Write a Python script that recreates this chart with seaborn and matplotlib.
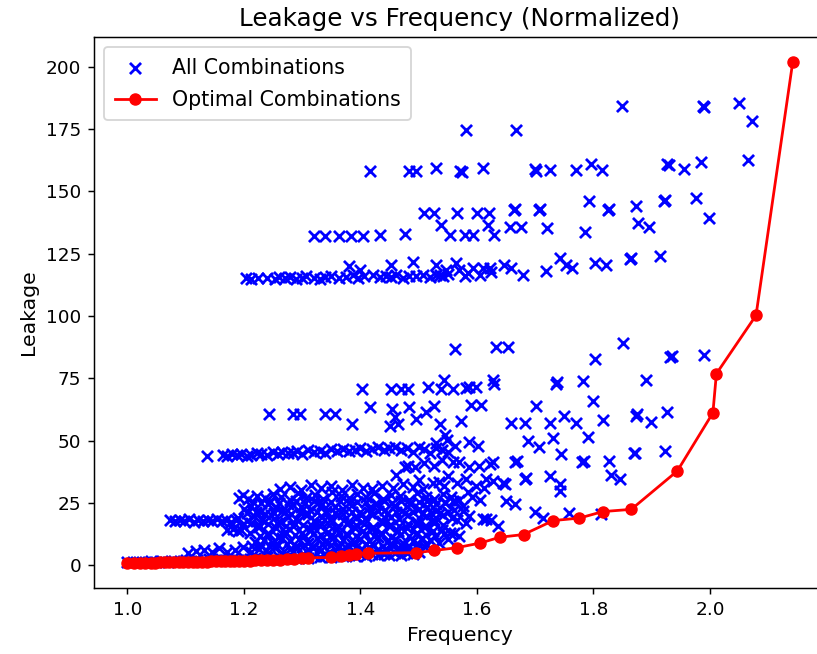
import matplotlib
matplotlib.use("Agg")
import matplotlib.pyplot as plt
import seaborn as sns

# ---- optimal (pareto) combinations ----
opt_freq = [1.000, 1.012, 1.022, 1.031, 1.040, 1.048, 1.056, 1.064, 1.072, 1.080,
            1.088, 1.096, 1.104, 1.112, 1.120, 1.128, 1.136, 1.144, 1.152, 1.160,
            1.168, 1.176, 1.184, 1.192, 1.200, 1.210, 1.220, 1.230, 1.240, 1.250,
            1.262, 1.274, 1.286, 1.300, 1.310, 1.350, 1.367, 1.381, 1.393, 1.413,
            1.496, 1.527, 1.565, 1.606, 1.639, 1.680, 1.731, 1.776, 1.816, 1.865,
            1.944, 2.005, 2.011, 2.079, 2.142]
opt_leak = [0.9, 0.9, 1.0, 1.0, 1.0, 1.0, 1.1, 1.1, 1.1, 1.2,
            1.2, 1.2, 1.3, 1.3, 1.3, 1.4, 1.4, 1.5, 1.5, 1.5,
            1.6, 1.6, 1.7, 1.7, 1.8, 1.8, 1.9, 2.0, 2.0, 2.1,
            2.2, 2.3, 2.5, 2.8, 3.0, 3.1, 3.5, 4.2, 4.6, 4.8,
            5.0, 5.9, 7.0, 8.9, 11.2, 12.3, 17.9, 18.9, 21.5, 22.4,
            37.8, 61.1, 76.8, 100.2, 201.8]

# ---- all combinations, grouped by the bands seen in the chart ----
low_freq = [1.00, 1.01, 1.02, 1.03, 1.04, 1.05, 1.06, 1.07, 1.08, 1.09, 1.10, 1.11, 1.12,
            1.13, 1.14, 1.15, 1.16, 1.17, 1.18, 1.19, 1.20, 1.21, 1.22, 1.23, 1.24, 1.25,
            1.26, 1.27, 1.28, 1.29, 1.30, 1.31, 1.32, 1.33, 1.34, 1.35, 1.36, 1.37, 1.38,
            1.39, 1.40, 1.41, 1.42, 1.43, 1.44, 1.45, 1.46, 1.47, 1.48, 1.49, 1.50,
            1.105, 1.118, 1.132, 1.146, 1.158, 1.171, 1.185, 1.198, 1.212, 1.226, 1.238,
            1.252, 1.266, 1.279, 1.292, 1.306, 1.319, 1.333, 1.346, 1.361, 1.374, 1.388,
            1.402, 1.415, 1.429, 1.442, 1.456, 1.469, 1.483, 1.497, 1.51]
low_leak = [1.2, 1.1, 1.4, 1.2, 1.5, 1.3, 1.6, 1.4, 1.7, 1.5, 1.9, 1.6, 2.1,
            1.8, 2.3, 1.9, 2.4, 2.1, 2.6, 2.2, 2.8, 2.3, 2.9, 2.5, 3.1, 2.6,
            3.2, 2.7, 3.3, 2.9, 3.5, 3.0, 3.6, 3.2, 3.8, 3.3, 3.9, 3.5, 4.1,
            3.6, 4.3, 3.8, 4.4, 3.9, 4.6, 4.1, 4.7, 4.2, 4.9, 4.4, 5.1,
            4.8, 5.6, 6.2, 5.1, 6.8, 5.4, 6.0, 7.1, 5.3, 6.5, 5.8,
            7.3, 5.0, 6.3, 6.9, 5.5, 7.0, 6.1, 5.2, 6.7, 7.4, 5.7,
            6.4, 7.2, 5.9, 6.6, 7.5, 6.0, 7.1, 6.8, 7.6]

b17_freq = [1.073, 1.082, 1.090, 1.098, 1.106, 1.114, 1.122, 1.130, 1.138, 1.146,
            1.154, 1.162, 1.170, 1.178, 1.186, 1.172, 1.181, 1.190]
b17_leak = [18.3, 17.6, 18.1, 17.8, 18.4, 17.5, 18.0, 17.7, 18.2, 17.9,
            18.5, 17.6, 18.0, 17.4, 18.2, 14.1, 14.6, 13.8]

dense_freq = [
    1.22, 1.235, 1.25, 1.265, 1.28, 1.295, 1.31, 1.325, 1.34, 1.355, 1.37, 1.385,
    1.40, 1.415, 1.43, 1.445, 1.46, 1.475, 1.49, 1.505, 1.52, 1.535, 1.55,
    1.195, 1.21, 1.225, 1.24, 1.255, 1.27, 1.285, 1.30, 1.315, 1.33, 1.345, 1.36,
    1.375, 1.39, 1.405, 1.42, 1.435, 1.45, 1.465, 1.48, 1.495, 1.51, 1.525, 1.54, 1.56,
    1.19, 1.205, 1.218, 1.232, 1.247, 1.262, 1.276, 1.29, 1.305, 1.32, 1.334, 1.348,
    1.362, 1.378, 1.392, 1.408, 1.422, 1.437, 1.452, 1.467, 1.482, 1.497, 1.512,
    1.527, 1.542, 1.557,
    1.20, 1.213, 1.227, 1.242, 1.256, 1.27, 1.284, 1.298, 1.313, 1.327, 1.341, 1.356,
    1.37, 1.385, 1.399, 1.414, 1.428, 1.443, 1.457, 1.472, 1.486, 1.501, 1.515, 1.53,
    1.545, 1.56,
    1.192, 1.198, 1.208, 1.222, 1.236, 1.25, 1.264, 1.279, 1.293, 1.307, 1.322, 1.336,
    1.351, 1.366, 1.38, 1.395, 1.41, 1.424, 1.439, 1.453, 1.468, 1.483, 1.497, 1.512,
    1.526, 1.541, 1.556, 1.57,
    1.262, 1.28, 1.298, 1.315, 1.333, 1.35, 1.368, 1.386, 1.404, 1.42, 1.438, 1.456,
    1.474, 1.49, 1.508, 1.525, 1.543]
dense_leak = [
    9.5, 10.2, 8.8, 11.0, 9.7, 10.5, 8.9, 10.8, 9.4, 11.2, 10.1, 8.7,
    10.6, 9.9, 11.3, 9.2, 10.4, 8.6, 9.8, 11.1, 10.3, 9.0, 10.7,
    14.2, 13.1, 15.3, 12.6, 14.8, 13.5, 15.9, 12.9, 14.1, 15.6, 13.3, 14.7,
    12.4, 15.1, 13.8, 14.5, 12.8, 15.7, 13.6, 14.9, 12.5, 15.4, 13.9, 14.3, 13.0,
    18.9, 17.6, 19.8, 18.2, 20.1, 17.3, 19.2, 18.6, 20.4, 17.9, 19.5, 18.1,
    20.2, 17.4, 19.0, 18.7, 20.6, 17.8, 19.3, 18.4, 20.0, 17.5, 19.7,
    18.3, 20.3, 19.1,
    22.4, 23.8, 21.5, 24.6, 22.9, 21.2, 24.1, 23.3, 22.0, 24.9, 21.7, 23.5,
    22.6, 24.3, 21.4, 23.1, 24.7, 22.2, 23.9, 21.8, 24.4, 22.7, 23.2, 21.6,
    24.8, 22.1,
    27.1, 28.3, 26.4, 27.8, 26.9, 28.6, 27.4, 26.2, 28.9, 27.0, 28.1, 26.6,
    29.2, 27.6, 26.8, 28.4, 27.2, 29.0, 26.5, 28.0, 27.7, 26.3, 28.8, 27.5,
    26.7, 28.5, 27.3, 26.0,
    30.6, 31.4, 30.1, 32.0, 30.9, 31.7, 30.3, 32.3, 31.1, 30.5, 31.9, 30.8,
    32.5, 31.2, 30.4, 32.8, 31.6]

fill_freq = [
    1.228, 1.243, 1.258, 1.273, 1.288, 1.303, 1.318, 1.333, 1.348, 1.363, 1.378,
    1.393, 1.408, 1.423, 1.438, 1.453, 1.468, 1.483, 1.498, 1.513, 1.528, 1.543,
    1.197, 1.212, 1.227, 1.242, 1.257, 1.272, 1.287, 1.302, 1.317, 1.332, 1.347, 1.362,
    1.377, 1.392, 1.407, 1.422, 1.437, 1.452, 1.467, 1.482, 1.497, 1.512, 1.527, 1.542,
    1.206, 1.221, 1.236, 1.251, 1.266, 1.281, 1.296, 1.311, 1.326, 1.341, 1.356, 1.371,
    1.386, 1.401, 1.416, 1.431, 1.446, 1.461, 1.476, 1.491, 1.506, 1.521, 1.536, 1.551,
    1.215, 1.230, 1.245, 1.260, 1.275, 1.290, 1.305, 1.320, 1.335, 1.350, 1.365, 1.380,
    1.395, 1.410, 1.425, 1.440, 1.455, 1.470, 1.485, 1.500, 1.515, 1.530, 1.545, 1.562,
    1.214, 1.229, 1.244, 1.259, 1.274, 1.289, 1.304, 1.319, 1.334, 1.349, 1.364,
    1.379, 1.394, 1.409, 1.424, 1.439, 1.454, 1.469, 1.484, 1.499, 1.514]
fill_leak = [
    11.8, 12.4, 11.5, 12.9, 12.1, 11.6, 12.7, 12.2, 11.4, 12.8, 12.0,
    11.7, 12.5, 11.9, 12.6, 11.3, 12.3, 11.8, 12.9, 12.0, 11.6, 12.4,
    16.1, 16.8, 15.7, 16.4, 17.0, 15.9, 16.6, 16.2, 15.6, 16.9, 16.3, 15.8,
    16.7, 16.0, 16.5, 15.5, 16.8, 16.1, 15.9, 16.6, 16.3, 15.7, 16.9, 16.2,
    20.8, 21.3, 20.5, 21.0, 21.6, 20.7, 21.2, 20.4, 21.5, 20.9, 21.1, 20.6,
    21.4, 20.3, 21.0, 21.7, 20.6, 21.2, 20.8, 21.5, 20.4, 21.1, 20.9, 21.3,
    25.3, 24.8, 25.9, 25.1, 24.6, 25.6, 25.0, 25.8, 24.7, 25.4, 25.9, 24.9,
    25.5, 25.2, 24.5, 25.7, 25.0, 25.6, 24.8, 25.3, 25.9, 24.6, 25.2, 25.5,
    7.9, 8.3, 7.6, 8.1, 8.5, 7.8, 8.2, 7.5, 8.4, 8.0, 7.7,
    8.3, 7.9, 8.6, 8.1, 7.6, 8.4, 8.0, 7.8, 8.5, 8.2]

b44_freq = [1.136, 1.164, 1.172, 1.180, 1.188, 1.196, 1.205, 1.213, 1.222, 1.230,
            1.240, 1.250, 1.258, 1.266, 1.275, 1.284, 1.292, 1.300, 1.310, 1.320,
            1.330, 1.340, 1.350, 1.360, 1.370, 1.380, 1.390, 1.400, 1.410, 1.420,
            1.430, 1.440, 1.450, 1.460, 1.470, 1.480, 1.490, 1.500, 1.510, 1.520,
            1.530, 1.540, 1.550,
            1.462, 1.476, 1.481, 1.493, 1.500, 1.510, 1.527, 1.535, 1.540, 1.550,
            1.559, 1.530, 1.548, 1.545]
b44_leak = [43.9, 44.2, 43.8, 44.5, 44.0, 44.7, 43.9, 44.3, 45.1, 44.6,
            44.0, 45.3, 44.4, 45.6, 44.8, 45.0, 45.9, 44.6, 46.2, 45.4,
            46.0, 45.1, 46.5, 45.7, 46.8, 45.9, 46.3, 47.1, 45.8, 46.6,
            47.3, 46.1, 46.9, 47.5, 46.4, 47.0, 45.6, 47.4, 46.7, 44.9,
            47.2, 46.3, 45.5,
            36.0, 39.3, 39.8, 39.2, 34.2, 41.0, 39.8, 33.5, 42.0, 35.8,
            41.2, 49.0, 50.2, 52.1]

r60_freq = [1.244, 1.284, 1.296, 1.339, 1.356, 1.386, 1.403, 1.416, 1.453, 1.470,
            1.481, 1.516, 1.539, 1.544, 1.559, 1.455, 1.459, 1.464, 1.451, 1.484,
            1.496, 1.513, 1.527, 1.536, 1.562, 1.582]
r60_leak = [60.7, 60.7, 60.7, 60.7, 60.7, 56.7, 70.5, 63.4, 70.5, 70.5,
            70.5, 71.5, 70.5, 74.1, 70.5, 62.7, 59.4, 56.7, 56.0, 63.4,
            58.7, 61.4, 64.0, 56.7, 86.9, 71.0]

right_freq = [1.633, 1.653, 1.850, 1.802, 1.932, 1.934, 1.989, 1.587, 1.598, 1.627,
              1.630, 1.735, 1.737, 1.782, 1.890, 1.590, 1.607, 1.701, 1.799, 1.573,
              1.659, 1.682, 1.725, 1.750, 1.770, 1.817, 1.873, 1.875, 1.899, 1.927,
              1.790, 1.687, 1.707, 1.730, 1.745, 1.781, 1.783, 1.826, 1.870, 1.872,
              1.923, 1.830, 1.845, 1.666, 1.668, 1.683, 1.685, 1.725, 1.743, 1.743,
              1.649, 1.650, 1.665, 1.699, 1.713, 1.758, 1.813, 1.610, 1.624, 1.636,
              1.562, 1.587, 1.602, 1.570, 1.587, 1.604, 1.622, 1.565, 1.582, 1.599,
              1.616, 1.559, 1.576, 1.587, 1.565, 1.582, 1.616, 1.553, 1.570, 1.576,
              1.613, 1.627, 1.644, 1.627, 1.592, 1.605, 1.585]
right_leak = [87.6, 87.6, 89.3, 82.6, 83.5, 84.1, 84.5, 71.5, 71.5, 74.1,
              72.8, 72.8, 73.3, 73.7, 74.4, 64.3, 64.3, 63.8, 66.0, 58.0,
              57.1, 57.1, 57.1, 59.8, 57.1, 58.4, 60.0, 60.5, 57.6, 61.4,
              51.3, 49.9, 47.3, 50.9, 44.6, 41.2, 41.7, 41.9, 44.8, 45.2,
              45.9, 36.1, 34.5, 41.2, 41.7, 34.5, 35.0, 35.8, 32.5, 29.8,
              32.5, 25.7, 24.4, 21.3, 19.0, 21.0, 20.4, 18.6, 18.3, 15.6,
              47.9, 49.3, 47.9, 41.2, 39.2, 39.8, 40.5, 33.1, 34.5, 31.8,
              34.5, 25.7, 23.7, 19.7, 18.3, 17.0, 18.6, 13.0, 11.6, 21.7,
              31.1, 33.8, 33.1, 41.2, 27.5, 26.0, 29.5]

up_freq = [1.204, 1.213, 1.224, 1.239, 1.253, 1.261, 1.270, 1.279, 1.290, 1.299,
           1.307, 1.321, 1.330, 1.339, 1.350, 1.364, 1.376, 1.387, 1.396, 1.407,
           1.421, 1.433, 1.444, 1.453, 1.462, 1.473, 1.484, 1.496, 1.507, 1.519,
           1.530, 1.542, 1.550, 1.381, 1.453, 1.490, 1.530, 1.400,
           1.536, 1.547, 1.564, 1.570, 1.579, 1.584, 1.593, 1.605, 1.610, 1.622,
           1.625, 1.647, 1.659, 1.679, 1.719, 1.742, 1.753, 1.764, 1.802, 1.822,
           1.862, 1.864, 1.914,
           1.321, 1.339, 1.364, 1.384, 1.404, 1.433, 1.476, 1.539, 1.553, 1.579,
           1.593, 1.619, 1.630, 1.656, 1.676, 1.720, 1.786, 1.876, 1.895,
           1.510, 1.527, 1.566, 1.600, 1.620, 1.663, 1.665, 1.706, 1.708, 1.792,
           1.825, 1.827, 1.873, 1.921, 1.923, 1.976, 1.999,
           1.416, 1.484, 1.496, 1.530, 1.571, 1.575, 1.610, 1.699, 1.702, 1.725,
           1.770, 1.796, 1.815, 1.926, 1.929, 1.956, 1.985, 2.065,
           1.582, 1.667, 1.849, 1.988, 1.990, 2.049, 2.072]
up_leak = [115.0, 114.8, 115.3, 115.1, 114.7, 115.4, 115.0, 115.6, 114.9, 115.2,
           115.8, 115.1, 114.8, 115.5, 116.0, 115.3, 115.7, 116.2, 115.0, 115.9,
           116.3, 115.4, 116.1, 115.6, 116.5, 115.2, 116.0, 115.8, 116.4, 115.5,
           116.2, 115.9, 116.6, 119.8, 120.5, 121.8, 120.5, 118.2,
           116.5, 118.5, 121.2, 118.5, 115.8, 117.1, 119.2, 116.2, 119.2, 119.2,
           117.6, 120.5, 119.2, 116.5, 117.8, 123.2, 120.5, 119.2, 121.2, 120.5,
           122.9, 123.4, 123.9,
           131.9, 131.9, 131.9, 131.9, 131.9, 132.3, 132.9, 136.6, 132.6, 132.6,
           132.6, 136.6, 132.6, 135.6, 135.6, 135.3, 133.7, 137.3, 135.6,
           141.3, 141.3, 141.3, 141.3, 141.3, 142.3, 142.8, 142.3, 142.8, 146.0,
           142.3, 142.8, 144.0, 146.0, 146.5, 147.1, 139.3,
           158.1, 158.1, 158.1, 159.2, 158.1, 157.6, 159.2, 158.8, 158.3, 158.4,
           158.4, 160.8, 158.4, 161.1, 160.6, 158.8, 161.9, 162.6,
           174.6, 174.6, 184.3, 184.3, 183.8, 185.3, 178.0]

all_freq = (low_freq + b17_freq + dense_freq + fill_freq + b44_freq
            + r60_freq + right_freq + up_freq)
all_leak = (low_leak + b17_leak + dense_leak + fill_leak + b44_leak
            + r60_leak + right_leak + up_leak)

fig = plt.figure(figsize=(817 / 133, 654 / 133), dpi=133)
ax = fig.add_axes([94 / 817, 66 / 654, 732 / 817, 551 / 654])

sns.scatterplot(x=all_freq, y=all_leak, marker='x', color='blue', s=36,
                linewidth=1.5, label='All Combinations', ax=ax)
sns.lineplot(x=opt_freq, y=opt_leak, color='red', marker='o', markersize=6,
             markeredgecolor='red', linewidth=1.5, sort=False, estimator=None,
             label='Optimal Combinations', ax=ax)

ax.set_title('Leakage vs Frequency (Normalized)', fontsize=13.3)
ax.set_xlabel('Frequency', fontsize=11)
ax.set_ylabel('Leakage', fontsize=11)
ax.legend(loc='upper left', fontsize=11.1, borderpad=0.5, labelspacing=0.6)

fig.savefig('out.png', dpi=133)
